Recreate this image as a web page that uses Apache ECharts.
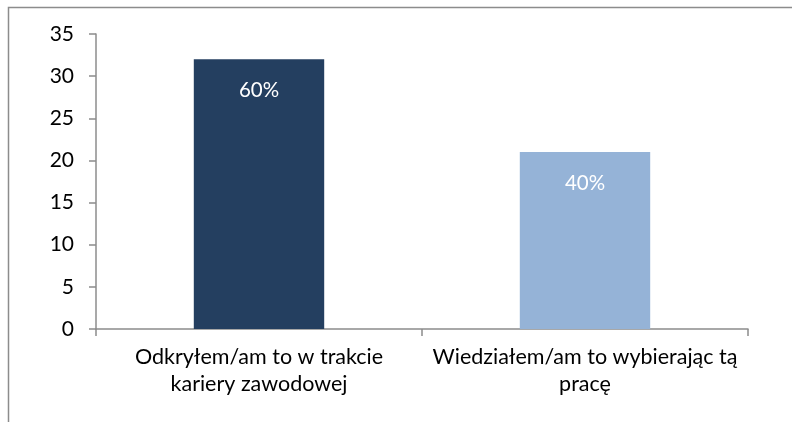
<!DOCTYPE html>
<html>
<head>
<meta charset="utf-8">
<script src="https://cdn.jsdelivr.net/npm/echarts@6/dist/echarts.min.js"></script>
<style>
  html, body { margin: 0; padding: 0; background: #fff; }
  #chart { width: 792px; height: 422px; }
</style>
</head>
<body>
<div id="chart"></div>
<script>
// data
var categories = ['Odkryłem/am to w trakcie\nkariery zawodowej', 'Wiedziałem/am to wybierając tą\npracę'];
var values = [32, 21];
var shares = ['60%', '40%'];
var barColors = ['#243F60', '#95B3D7'];
var yTicks = { min: 0, max: 35, interval: 5 };

var dom = document.getElementById('chart');
var myChart = echarts.init(dom);
var option;

var axisGray = '#8c8c8c';
var fontName = 'Lato';

option = {
    animation: false,
    textStyle: { fontFamily: fontName },
    // outer frame, only left and top visible like the source
    graphic: [
        {
            type: 'rect',
            left: 6,
            top: 5,
            shape: { width: 900, height: 600 },
            style: { fill: 'none', stroke: axisGray, lineWidth: 1.5 },
            silent: true
        }
    ],
    grid: {
        left: 96,
        right: 44,
        top: 34,
        bottom: 93
    },
    xAxis: {
        type: 'category',
        data: categories,
        boundaryGap: true,
        axisLine: { lineStyle: { color: axisGray, width: 1.5 } },
        axisTick: { show: true, length: 7, lineStyle: { color: axisGray, width: 1.5 } },
        axisLabel: {
            color: '#000',
            fontSize: 21.5,
            lineHeight: 27,
            margin: 15,
            interval: 0,
            fontFamily: fontName
        }
    },
    yAxis: {
        type: 'value',
        min: yTicks.min,
        max: yTicks.max,
        interval: yTicks.interval,
        axisLine: { show: true, lineStyle: { color: axisGray, width: 1.5 } },
        axisTick: { show: true, length: 7, lineStyle: { color: axisGray, width: 1.5 } },
        splitLine: { show: false },
        axisLabel: {
            color: '#000',
            fontSize: 21,
            margin: 22,
            fontFamily: fontName
        }
    },
    series: [
        {
            type: 'bar',
            barWidth: '40%',
            data: values.map(function (v, i) {
                return { value: v, itemStyle: { color: barColors[i] } };
            }),
            label: {
                show: true,
                position: 'insideTop',
                distance: 21,
                color: '#fff',
                fontSize: 20.5,
                fontFamily: fontName,
                formatter: function (p) { return shares[p.dataIndex]; }
            }
        }
    ]
};

if (option && typeof option === 'object') {
    myChart.setOption(option);
}
</script>
</body>
</html>
